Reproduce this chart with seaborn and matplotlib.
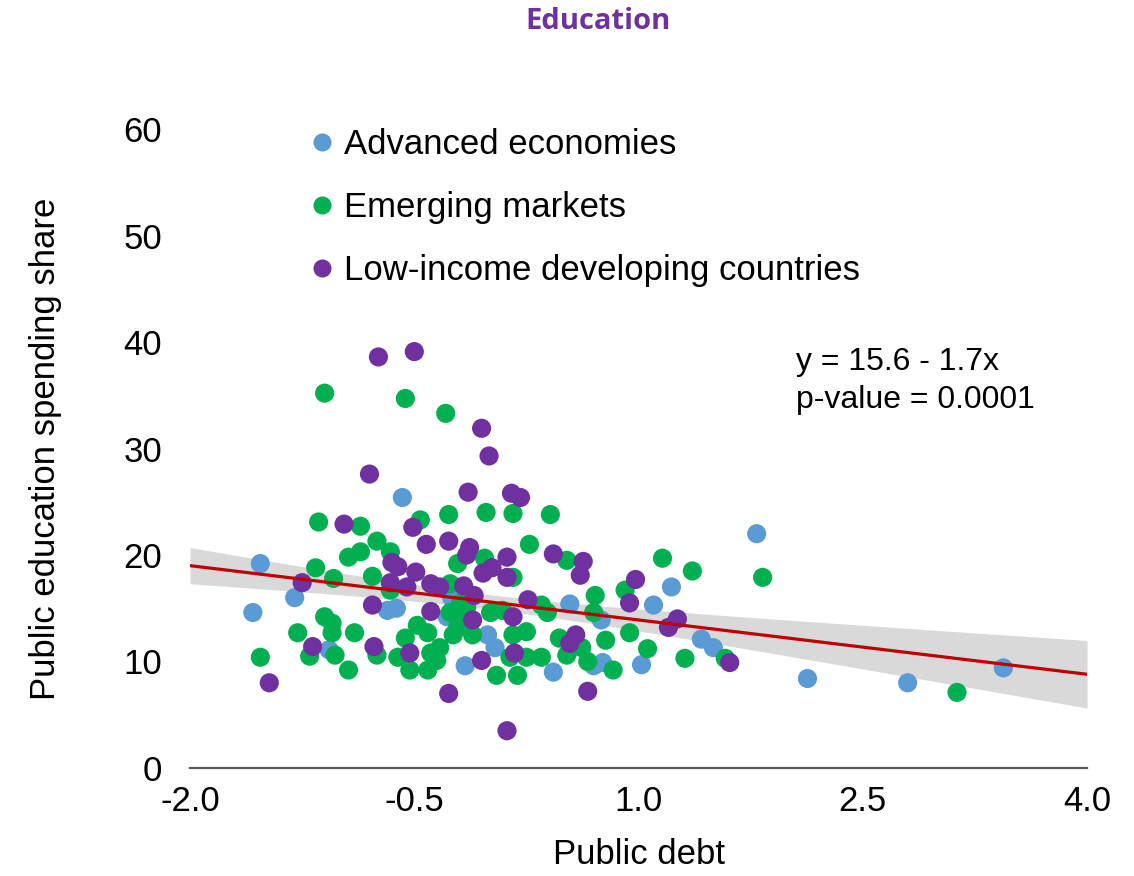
import numpy as np
import pandas as pd
import matplotlib
matplotlib.use("Agg")
import matplotlib.pyplot as plt
from matplotlib.lines import Line2D
import seaborn as sns

# Public debt (x) and public education spending share (y) by country group
adv_x = [-1.58, -1.53, -1.30, -1.07, -0.68, -0.62, -0.58, -0.25, -0.16, -0.28,
         -0.01, 0.04, 0.43, 0.54, 0.75, 0.70, 0.76, 1.02, 1.10, 1.22,
         1.42, 1.50, 1.79, 2.13, 2.80, 3.44]
adv_y = [14.6, 19.2, 16.0, 11.1, 14.8, 15.0, 25.4, 16.0, 9.6, 14.2,
         12.5, 11.3, 9.0, 15.4, 13.9, 9.6, 9.9, 9.7, 15.3, 17.0,
         12.1, 11.3, 22.0, 8.4, 8.0, 9.4]

em_x = [-1.10, -0.56, -0.29, -1.14, -0.86, -0.46, -0.27, -0.02, 0.16, 0.41,
        0.27, -0.75, -0.94, -0.86, -0.66, -1.16, -1.04, -0.78, -0.21, -0.03,
        0.52, 0.16, -0.26, -0.66, 1.16, 1.36, 1.83, 0.71, 0.91, 0.35,
        -0.19, -0.15, 0.01, 0.09, 0.39, 0.70, -0.26, -1.10, -1.05, -0.48,
        -0.19, -1.28, -1.05, -0.90, -0.41, -0.24, -0.11, 0.16, 0.25, 0.94,
        -0.21, -0.56, 0.47, 0.78, -0.33, 1.06, 0.62, -1.53, -1.20, -1.03,
        -0.75, -0.61, -0.39, 0.14, 0.25, 0.35, 0.52, -0.35, 1.31, 1.58,
        0.66, -0.94, -0.53, -0.41, 0.05, 0.19, 0.83, 3.13]
em_y = [35.2, 34.7, 33.3, 23.1, 22.7, 23.3, 23.8, 24.0, 23.9, 23.8,
        21.0, 21.3, 19.8, 20.3, 20.3, 18.8, 17.8, 18.0, 19.2, 19.7,
        19.5, 17.9, 17.3, 16.7, 19.7, 18.5, 17.9, 16.2, 16.7, 15.3,
        15.5, 15.1, 14.6, 14.8, 14.6, 14.6, 14.6, 14.2, 13.6, 13.4,
        13.9, 12.7, 12.7, 12.7, 12.7, 12.5, 12.5, 12.5, 12.8, 12.7,
        13.2, 12.2, 12.2, 12.0, 11.3, 11.2, 11.3, 10.4, 10.5, 10.6,
        10.6, 10.4, 10.8, 10.4, 10.4, 10.4, 10.6, 10.1, 10.3, 10.3,
        10.0, 9.2, 9.2, 9.2, 8.7, 8.7, 9.2, 7.1]

lidc_x = [-0.74, -0.50, -0.05, 0.00, -0.80, -0.14, 0.15, 0.21, -0.97, -0.51,
          -0.42, -0.27, -0.13, -0.15, 0.12, 0.43, 0.63, 0.61, 0.98, -0.65,
          -0.61, -0.49, -1.25, -0.66, -0.55, -0.39, -0.33, -0.17, -0.10, -0.04,
          0.02, 0.12, -0.78, -0.39, -0.11, 0.26, 0.16, 0.94, 1.20, 1.26,
          0.58, 0.54, -1.18, -0.77, -0.53, 0.17, -0.05, 1.61, -1.47, -0.27,
          0.66, 0.12]
lidc_y = [38.6, 39.1, 31.9, 29.3, 27.6, 25.9, 25.8, 25.4, 22.9, 22.6,
          21.0, 21.3, 20.7, 20.0, 19.8, 20.1, 19.4, 18.1, 17.7, 19.3,
          18.9, 18.4, 17.4, 17.4, 17.0, 17.3, 17.0, 17.1, 16.2, 18.3,
          18.8, 17.9, 15.3, 14.7, 13.9, 15.8, 14.2, 15.5, 13.2, 14.0,
          12.5, 11.7, 11.4, 11.4, 10.8, 10.8, 10.1, 9.9, 8.0, 7.0,
          7.2, 3.5]

groups = ["Advanced economies", "Emerging markets",
          "Low-income developing countries"]
colors = ["#5B9BD5", "#00B050", "#7030A0"]

# Fitted relationship shown on the chart
intercept = 15.6
slope = -1.7
x_ticks = [-2.0, -0.5, 1.0, 2.5, 4.0]
y_ticks = [0, 10, 20, 30, 40, 50, 60]

df = pd.concat([
    pd.DataFrame({"debt": adv_x, "edu": adv_y, "group": groups[0]}),
    pd.DataFrame({"debt": em_x, "edu": em_y, "group": groups[1]}),
    pd.DataFrame({"debt": lidc_x, "edu": lidc_y, "group": groups[2]}),
], ignore_index=True)

sns.set_theme(style="white")
plt.rcParams["font.family"] = ["Liberation Sans", "DejaVu Sans"]
plt.rcParams["text.color"] = "#000000"

fig = plt.figure(figsize=(11.34, 8.76), dpi=100)
ax = fig.add_axes([0.1676, 0.1233, 0.791, 0.7294])

# Confidence band around the stated line
xs = np.linspace(-2.0, 4.0, 200)
x_all = df["debt"].to_numpy()
y_all = df["edu"].to_numpy()
n = len(x_all)
resid = y_all - (intercept + slope * x_all)
s = np.sqrt(np.sum(resid ** 2) / (n - 2))
sxx = np.sum((x_all - x_all.mean()) ** 2)
se = s * np.sqrt(1.0 / n + (xs - x_all.mean()) ** 2 / sxx)
fit = intercept + slope * xs
band_z = 1.4
ax.fill_between(xs, fit - band_z * se, fit + band_z * se, color="#D9D9D9",
                linewidth=0, zorder=1)

sns.scatterplot(data=df, x="debt", y="edu", hue="group", hue_order=groups,
                palette=dict(zip(groups, colors)), s=190, linewidth=0,
                alpha=1, legend=False, ax=ax, zorder=2)

ax.plot(xs, fit, color="#C00000", linewidth=2.3, zorder=3)

ax.set_xlim(-2.0, 4.0)
ax.set_ylim(0, 60)
ax.set_xticks(x_ticks)
ax.set_xticklabels([f"{v:.1f}" for v in x_ticks])
ax.set_yticks(y_ticks)
ax.tick_params(axis="x", labelsize=25, length=0, colors="#000000", pad=12)
ax.tick_params(axis="y", labelsize=25, length=0, colors="#000000", pad=20)
for side in ["top", "right", "left"]:
    ax.spines[side].set_visible(False)
ax.spines["bottom"].set_color("#595959")
ax.spines["bottom"].set_linewidth(1.6)

ax.set_xlabel("Public debt", fontsize=25, labelpad=15, color="#000000")
ax.set_ylabel("Public education spending share", fontsize=25, labelpad=44,
              color="#000000")

handles = [Line2D([0], [0], marker="o", linestyle="", markersize=13,
                  markerfacecolor=c, markeredgewidth=0) for c in colors]
leg = ax.legend(handles, groups, loc="upper left",
                bbox_to_anchor=(0.108, 1.023), frameon=False, fontsize=25,
                handletextpad=0.05, labelspacing=0.86, handlelength=1.2,
                borderaxespad=0)
for t in leg.get_texts():
    t.set_color("#000000")

ax.text(2.05, 38.1, "y = 15.6 - 1.7x", fontsize=23, va="center", ha="left")
ax.text(2.05, 34.6, "p-value = 0.0001", fontsize=23, va="center", ha="left")

fig.text(0.527, 0.975, "Education", fontsize=21, fontweight="bold",
         color="#7030A0", ha="center", va="center", family="Open Sans")

fig.savefig("out.png", dpi=100)
